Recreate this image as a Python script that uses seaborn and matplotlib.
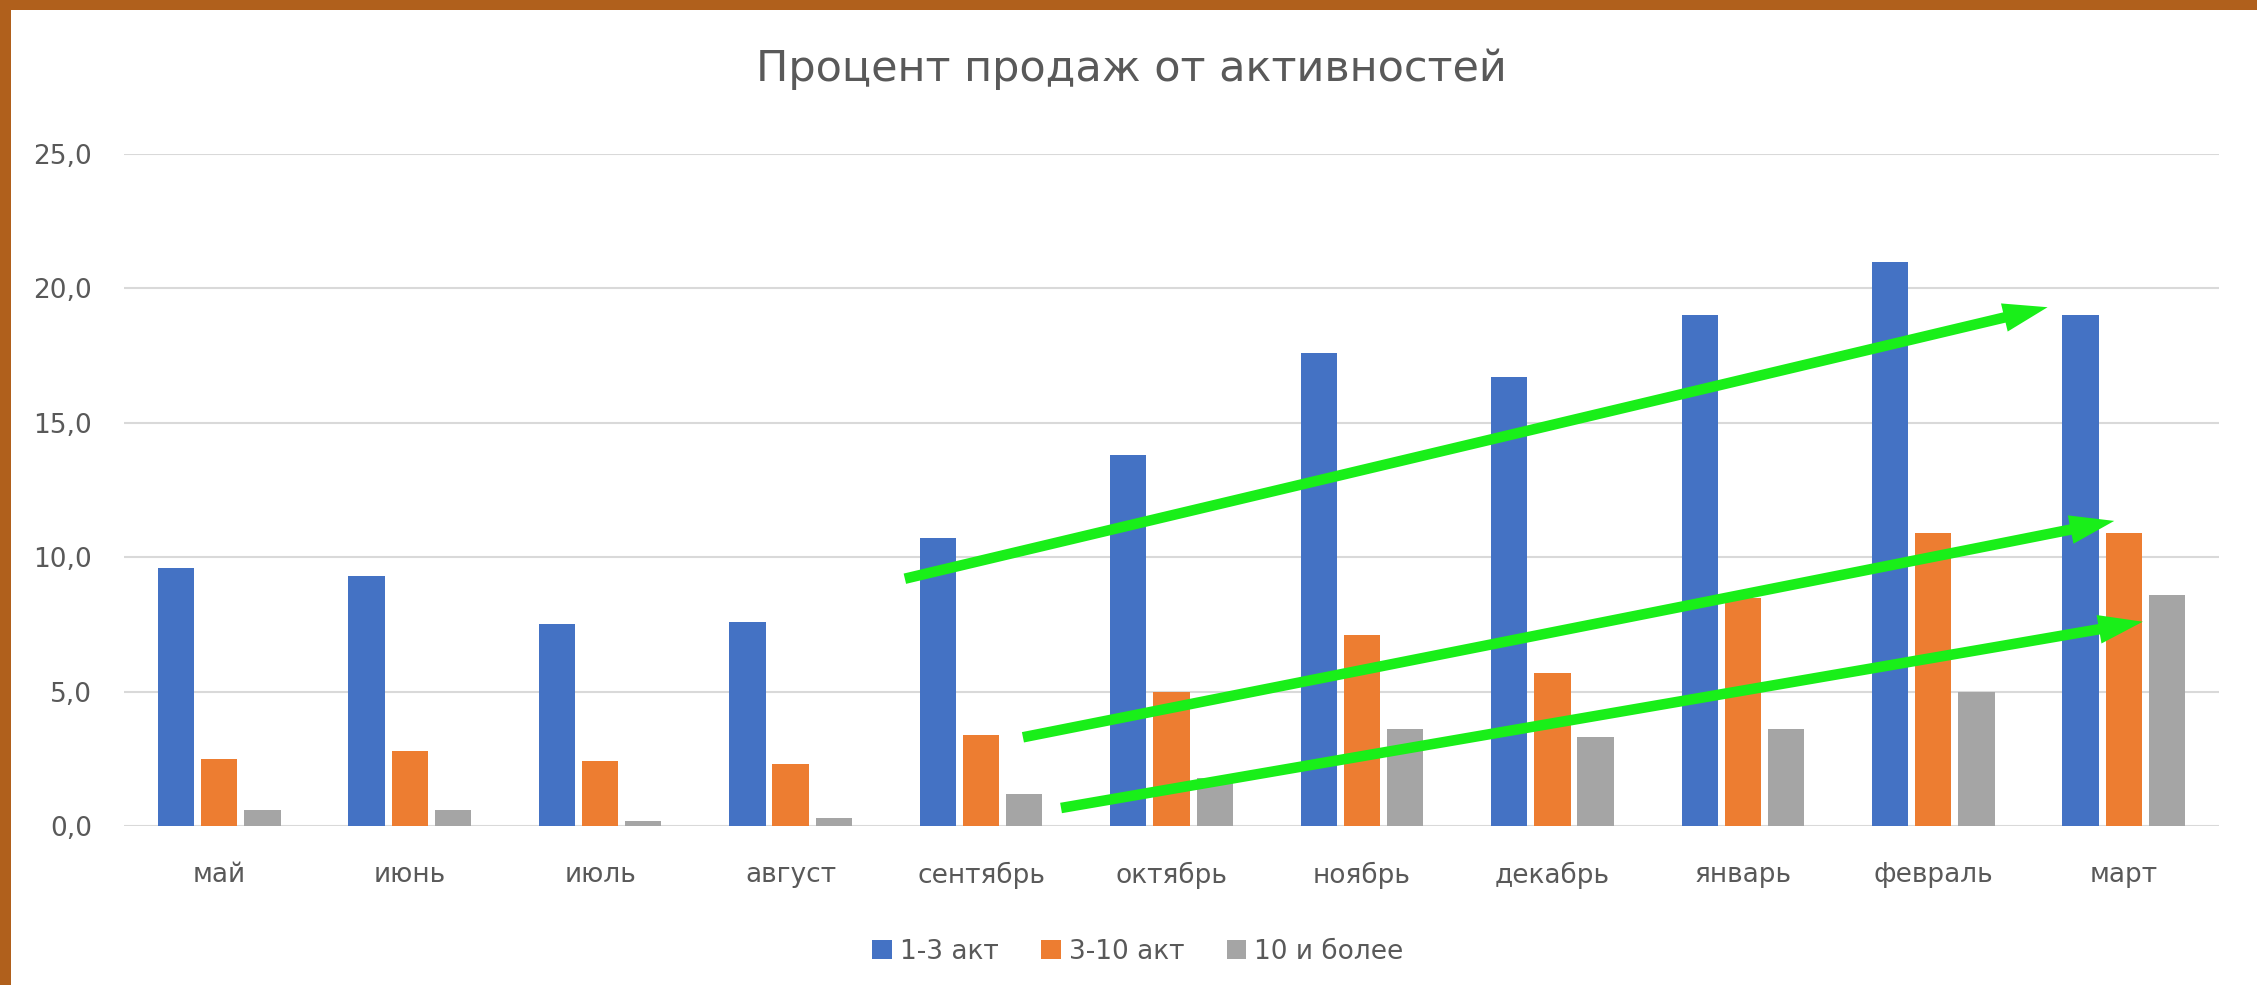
import matplotlib
matplotlib.use("Agg")
import matplotlib.pyplot as plt
from matplotlib.patches import Rectangle
from matplotlib.ticker import FuncFormatter
import seaborn as sns
import pandas as pd

months = ["май", "июнь", "июль", "август", "сентябрь", "октябрь",
          "ноябрь", "декабрь", "январь", "февраль", "март"]
series_names = ["1-3 акт", "3-10 акт", "10 и более"]
s_1_3 = [9.6, 9.3, 7.5, 7.6, 10.7, 13.8, 17.6, 16.7, 19.0, 21.0, 19.0]
s_3_10 = [2.5, 2.8, 2.4, 2.3, 3.4, 5.0, 7.1, 5.7, 8.5, 10.9, 10.9]
s_10_plus = [0.6, 0.6, 0.2, 0.3, 1.2, 1.8, 3.6, 3.3, 3.6, 5.0, 8.6]
colors = ["#4472C4", "#ED7D31", "#A5A5A5"]
title = "Процент продаж от активностей"

# trend arrows (annotation): (x_start, y_start, x_end, y_end) in data units
arrows = [(3.6, 9.2, 9.6, 19.3),
          (4.22, 3.3, 9.95, 11.35),
          (4.42, 0.67, 10.1, 7.6)]

df = pd.DataFrame({"month": months * 3,
                   "series": sum([[n] * len(months) for n in series_names], []),
                   "value": s_1_3 + s_3_10 + s_10_plus})

sns.set_theme(style="white")
plt.rcParams["font.family"] = ["DejaVu Sans"]
text_color = "#595959"

W, H = 2257, 985
fig = plt.figure(figsize=(W / 100, H / 100), dpi=100)
fig.patch.set_facecolor("#B0601C")
fig.patches.append(Rectangle((11 / W, 0), 1 - 11 / W, 1 - 10 / H,
                             transform=fig.transFigure, facecolor="white",
                             edgecolor="none", zorder=-10))

ax = fig.add_axes([124 / W, 1 - 826 / H, (2219 - 124) / W, (826 - 154) / H])
ax.set_zorder(1)
ax.set_facecolor("none")

sns.barplot(data=df, x="month", y="value", hue="series", palette=colors,
            width=0.68, gap=0.16, saturation=1, linewidth=0, ax=ax,
            order=months, hue_order=series_names)

ax.set_ylim(0, 25)
ax.set_yticks([0, 5, 10, 15, 20, 25])
ax.yaxis.set_major_formatter(FuncFormatter(lambda v, p: f"{v:.1f}".replace(".", ",")))
ax.grid(axis="y", color="#D9D9D9", linewidth=1.5)
ax.set_axisbelow(True)
for s in ax.spines.values():
    s.set_visible(False)
ax.tick_params(axis="both", length=0, labelsize=19, labelcolor=text_color)
ax.tick_params(axis="y", pad=23)
ax.tick_params(axis="x", pad=26)
ax.set_xlabel("")
ax.set_ylabel("")

for x0, y0, x1, y1 in arrows:
    ax.annotate("", xy=(x1, y1), xytext=(x0, y0),
                arrowprops=dict(arrowstyle="simple,tail_width=0.19,head_width=0.52,head_length=0.8",
                                facecolor="#19EF19", edgecolor="none", lw=0,
                                mutation_scale=40, shrinkA=0, shrinkB=0),
                zorder=5)

handles, labels = ax.get_legend_handles_labels()
if ax.get_legend() is not None:
    ax.get_legend().remove()
fig.legend(handles, labels, loc="center", bbox_to_anchor=(1138 / W, 1 - 952 / H),
           ncol=3, frameon=False, fontsize=19, labelcolor=text_color,
           handlelength=0.75, handleheight=0.75, handletextpad=0.3,
           columnspacing=1.6)

fig.text(1131 / W, 1 - 69 / H, title, ha="center", va="center",
         fontsize=31, color=text_color)

fig.savefig("out.png", dpi=100, facecolor=fig.get_facecolor())
